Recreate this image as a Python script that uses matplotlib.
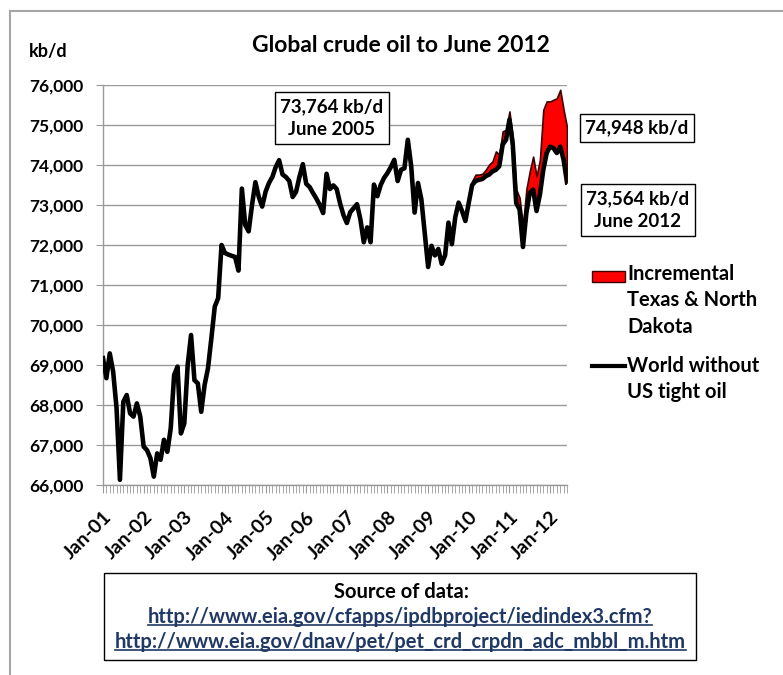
import matplotlib
matplotlib.use("Agg")
import matplotlib.pyplot as plt
from matplotlib.patches import Rectangle
from matplotlib.lines import Line2D
import numpy as np

plt.rcParams['font.family'] = ['Lato', 'DejaVu Sans']

# ---- data (kb/d), monthly Jan-2001 .. Jun-2012 ----
world_without_tight = [
    69170, 68670, 69290, 68830, 67920, 66130, 68080, 68250, 67790, 67710, 68040, 67710,   # 2001
    66960, 66870, 66670, 66210, 66790, 66630, 67130, 66830, 67420, 68750, 68960, 67290,   # 2002
    67540, 69000, 69750, 68620, 68540, 67830, 68500, 68920, 69670, 70460, 70670, 72000,   # 2003
    71800, 71760, 71730, 71700, 71360, 73410, 72500, 72340, 73000, 73570, 73200, 72960,   # 2004
    73330, 73550, 73700, 73950, 74120, 73764, 73700, 73600, 73200, 73330, 73700, 74020,   # 2005
    73530, 73450, 73300, 73160, 73000, 72800, 73780, 73400, 73490, 73400, 73040, 72750,   # 2006
    72550, 72820, 72920, 73020, 72640, 72070, 72440, 72070, 73510, 73220, 73500, 73680,   # 2007
    73800, 73950, 74130, 73600, 73880, 73920, 74630, 73970, 72810, 73550, 73140, 72300,   # 2008
    71450, 71980, 71740, 71900, 71530, 71740, 72560, 72020, 72690, 73060, 72850, 72600,   # 2009
    73060, 73500, 73600, 73630, 73650, 73720, 73760, 73840, 73880, 73970, 74510, 74630,   # 2010
    75130, 74500, 73050, 72890, 71950, 72800, 73300, 73390, 72850, 73260, 73880, 74300,   # 2011
    74460, 74420, 74300, 74460, 74130, 73564,                                             # 2012
]
# incremental Texas & North Dakota output stacked on top (zero before Feb-2010)
incremental_tx_nd = [0] * 109 + [
    100, 160, 130, 130, 160, 250, 250, 460, 290, 330, 250,          # Feb-10 .. Dec-10
    210, 210, 340, 290, 520, 590, 540, 820, 870, 870, 1500, 1290,   # 2011
    1130, 1210, 1370, 1420, 1250, 1384,                              # 2012
]
year_labels = ['Jan-01', 'Jan-02', 'Jan-03', 'Jan-04', 'Jan-05', 'Jan-06',
               'Jan-07', 'Jan-08', 'Jan-09', 'Jan-10', 'Jan-11', 'Jan-12']
y_ticks = [66000, 67000, 68000, 69000, 70000, 71000, 72000, 73000, 74000, 75000, 76000]

base = np.array(world_without_tight, dtype=float)
inc = np.array(incremental_tx_nd[:len(base)], dtype=float)
n = len(base)
x = np.arange(n)

W, H = 783, 675
fig = plt.figure(figsize=(W / 100, H / 100), dpi=100)
fig.patch.set_facecolor('white')

def fx(px):
    return px / W

def fy(py):
    return 1 - py / H

ax = fig.add_axes([fx(103), fy(485), fx(567) - fx(103), fy(85) - fy(485)])
ax.set_xlim(0, n - 1)
ax.set_ylim(66000, 76000)

grid_c = '#9a9a9a'
ax.set_yticks(y_ticks)
ax.set_yticklabels([f'{v:,}' for v in y_ticks], fontsize=12.5, fontweight='bold')
ax.yaxis.grid(True, color=grid_c, linewidth=1.0)
ax.set_axisbelow(True)

ax.set_xticks(np.arange(0, n, 12))
ax.set_xticklabels(year_labels, rotation=45, ha='right', va='top',
                   rotation_mode='anchor', fontsize=14, fontweight='bold')
ax.set_xticks(np.arange(n), minor=True)
ax.tick_params(axis='x', which='both', direction='out', length=6, color=grid_c, pad=11)
ax.tick_params(axis='y', direction='out', length=5, color=grid_c, pad=9)

for s in ['top', 'right']:
    ax.spines[s].set_visible(False)
for s in ['left', 'bottom']:
    ax.spines[s].set_color(grid_c)
    ax.spines[s].set_linewidth(1.0)

top = base + inc
mask = inc > 0
start = np.argmax(mask) - 1
ax.fill_between(x[start:], base[start:], top[start:], facecolor='#ff0000',
                edgecolor='#3a0000', linewidth=1.2, zorder=2)
ax.plot(x, base, color='black', linewidth=3.3, solid_joinstyle='round', zorder=3)

# title & unit
fig.text(fx(401), fy(45), 'Global crude oil to June 2012', ha='center', va='center',
         fontsize=16.5, fontweight='bold')
fig.text(fx(48), fy(51), 'kb/d', ha='center', va='center', fontsize=13, fontweight='bold')

# annotation boxes
def box_text(cx, cy, s):
    fig.text(fx(cx), fy(cy), s, ha='center', va='center', fontsize=13.5,
             fontweight='bold', linespacing=1.45,
             bbox=dict(boxstyle='square,pad=0.3', facecolor='white',
                       edgecolor='black', linewidth=1.0))

box_text(332, 118, '73,764 kb/d\nJune 2005')
box_text(637, 128, '74,948 kb/d')
box_text(638, 210, '73,564 kb/d\nJune 2012')

# manual legend
fig.patches.append(Rectangle((fx(592), fy(282)), fx(625) - fx(592), fy(271) - fy(282),
                             transform=fig.transFigure, facecolor='#ff0000',
                             edgecolor='#3a0000', linewidth=1.0))
for i, s in enumerate(['Incremental', 'Texas & North', 'Dakota']):
    fig.text(fx(627), fy(274 + 26.5 * i), s, ha='left', va='center',
             fontsize=14.5, fontweight='bold')
fig.lines.append(Line2D([fx(592), fx(625)], [fy(366), fy(366)],
                        transform=fig.transFigure, color='black', linewidth=3))
for i, s in enumerate(['World without', 'US tight oil']):
    fig.text(fx(627), fy(366 + 26.5 * i), s, ha='left', va='center',
             fontsize=14.5, fontweight='bold')

# source box
fig.patches.append(Rectangle((fx(104), fy(660)), fx(696) - fx(104), fy(573) - fy(660),
                             transform=fig.transFigure, facecolor='white',
                             edgecolor='black', linewidth=1.0))
fig.text(fx(402), fy(592), 'Source of data:', ha='center', va='center',
         fontsize=14.5, fontweight='bold')
url_c = '#1f3864'
urls = ['http://www.eia.gov/cfapps/ipdbproject/iedindex3.cfm?',
        'http://www.eia.gov/dnav/pet/pet_crd_crpdn_adc_mbbl_m.htm']
url_texts = []
for i, u in enumerate(urls):
    t = fig.text(fx(400), fy(617 + 25 * i), u, ha='center', va='center',
                 fontsize=14.5, fontweight='bold', color=url_c)
    url_texts.append(t)

# outer chart border (left & top)
fig.lines.append(Line2D([fx(10), fx(10)], [fy(11), 0], transform=fig.transFigure,
                        color='#a6a6a6', linewidth=1.5))
fig.lines.append(Line2D([fx(10), 1], [fy(11), fy(11)], transform=fig.transFigure,
                        color='#a6a6a6', linewidth=1.5))

# underline urls
fig.canvas.draw()
r = fig.canvas.get_renderer()
inv = fig.transFigure.inverted()
for t in url_texts:
    bb = t.get_window_extent(renderer=r)
    (x0, y0), (x1, y1) = inv.transform([(bb.x0, bb.y0), (bb.x1, bb.y1)])
    yl = y0 + (y1 - y0) * 0.12
    fig.lines.append(Line2D([x0, x1], [yl, yl], transform=fig.transFigure,
                            color=url_c, linewidth=1.2))

fig.savefig('out.png', dpi=100)
